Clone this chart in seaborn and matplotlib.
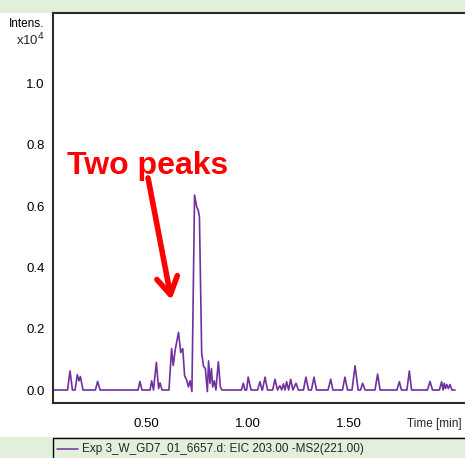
import matplotlib
matplotlib.use("Agg")
import matplotlib.pyplot as plt
from matplotlib.patches import Rectangle
from matplotlib.lines import Line2D
from matplotlib.ticker import FixedLocator, MultipleLocator
import seaborn as sns
import pandas as pd

# Extracted ion chromatogram: retention time [min] and intensity [x10^4]
time_min = [
    0.041, 0.114, 0.126, 0.138, 0.151, 0.162, 0.170, 0.177, 0.190,
    0.251, 0.262, 0.274, 0.461, 0.470, 0.480, 0.520, 0.528, 0.537,
    0.551, 0.562, 0.569, 0.579, 0.613, 0.626, 0.634, 0.644, 0.660,
    0.671, 0.681, 0.690, 0.700, 0.709, 0.717, 0.726, 0.739, 0.750,
    0.757, 0.763, 0.774, 0.783, 0.792, 0.802, 0.808, 0.815, 0.822,
    0.828, 0.836, 0.844, 0.856, 0.866, 0.874, 0.970, 0.979, 0.987,
    0.995, 1.003, 1.017, 1.049, 1.061, 1.071, 1.073, 1.086, 1.098,
    1.123, 1.135, 1.147, 1.159, 1.168, 1.176, 1.184, 1.192, 1.202,
    1.212, 1.223, 1.238, 1.250, 1.275, 1.287, 1.300, 1.314, 1.327,
    1.339, 1.396, 1.409, 1.420, 1.467, 1.479, 1.492, 1.514, 1.529,
    1.544, 1.556, 1.566, 1.578, 1.627, 1.640, 1.652, 1.735, 1.747,
    1.757, 1.784, 1.796, 1.807, 1.885, 1.898, 1.910, 1.944, 1.955,
    1.962, 1.968, 1.974, 1.980, 1.988, 1.996, 2.006, 2.021,
]
intensity = [
    0.0, 0.0, 0.062, 0.0, 0.0, 0.050, 0.030, 0.044, 0.0,
    0.0, 0.028, 0.0, 0.0, 0.028, 0.0, 0.0, 0.030, 0.0,
    0.090, 0.005, 0.023, 0.0, 0.0, 0.135, 0.080, 0.132, 0.188,
    0.122, 0.135, 0.046, 0.033, 0.010, 0.030, -0.005, 0.636, 0.596,
    0.587, 0.565, 0.120, 0.078, 0.070, -0.005, 0.095, 0.022, 0.070,
    0.010, 0.030, 0.0, 0.092, 0.010, 0.0, 0.0, 0.022, 0.0,
    0.0, 0.042, 0.0, 0.0, 0.027, 0.0, 0.0, 0.042, 0.0,
    0.0, 0.035, 0.0, 0.014, 0.0, 0.020, 0.0, 0.027, 0.0,
    0.035, 0.0, 0.022, 0.0, 0.0, 0.042, 0.0, 0.0, 0.042,
    0.0, 0.0, 0.035, 0.0, 0.0, 0.042, 0.0, 0.0, 0.079,
    0.0, 0.0, 0.022, 0.0, 0.0, 0.052, 0.0, 0.0, 0.027,
    0.0, 0.0, 0.062, 0.0, 0.0, 0.028, 0.0, 0.0, 0.027,
    0.0, 0.022, 0.005, 0.018, 0.005, 0.018, 0.0, 0.0,
]

y_ticks = [0.0, 0.2, 0.4, 0.6, 0.8, 1.0, 1.2]
y_tick_labels = ["0.0", "0.2", "0.4", "0.6", "0.8", "1.0", "Intens."]
x_ticks = [0.5, 1.0, 1.5, 2.0]
x_tick_labels = ["0.50", "1.00", "1.50", ""]
trace_label = "Exp 3_W_GD7_01_6657.d: EIC 203.00 -MS2(221.00)"
annotation_text = "Two peaks"

GREEN = "#e2efda"
PURPLE = "#7030a0"
DARK = "#2b2b2b"

sns.set_style("white")
plt.rcParams["font.family"] = ["Liberation Sans", "DejaVu Sans"]

W, H = 465, 458
fig = plt.figure(figsize=(W / 100, H / 100), dpi=100)
fig.patch.set_facecolor(GREEN)
# white drawing area between the green header and the legend strip
fig.patches.append(Rectangle((0, 21 / H), 1, 424 / H, transform=fig.transFigure,
                             facecolor="white", edgecolor="none", zorder=-5))

ax = fig.add_axes([53 / W, 55 / H, 412 / W, 390 / H])
ax.set_zorder(1)
ax.set_facecolor("white")

df = pd.DataFrame({"time": time_min, "intensity": intensity})
sns.lineplot(data=df, x="time", y="intensity", ax=ax, color=PURPLE,
             linewidth=1.2, sort=False, estimator=None)

ax.set_xlim(0.0423, 2.070)
ax.set_ylim(-0.0424, 1.230)
ax.set_xlabel("")
ax.set_ylabel("")

for side in ("left", "bottom", "top"):
    ax.spines[side].set_color(DARK)
    ax.spines[side].set_linewidth(1.5)
ax.spines["right"].set_visible(False)

ax.xaxis.set_major_locator(FixedLocator(x_ticks))
ax.set_xticklabels(x_tick_labels)
ax.xaxis.set_minor_locator(MultipleLocator(0.1))
ax.yaxis.set_major_locator(FixedLocator(y_ticks))
ax.set_yticklabels(y_tick_labels)
ax.yaxis.set_minor_locator(MultipleLocator(0.1))

ax.tick_params(axis="x", which="major", direction="out", length=6, width=1.1,
               color=DARK, labelsize=9.5, pad=5, labelcolor="black")
ax.tick_params(axis="x", which="minor", direction="out", length=4, width=1.1,
               color=DARK)
ax.tick_params(axis="y", which="major", direction="out", length=4, width=1.1,
               color=DARK, labelsize=9.5, pad=2, labelcolor="black")
ax.tick_params(axis="y", which="minor", direction="out", length=3, width=1.1,
               color=DARK)
ax.tick_params(top=False, right=False, which="both")
ax.get_yticklabels()[-1].set_fontsize(8.5)

# intensity scale factor below the axis title
fig.text(45 / W, 1 - 40 / H, r"x10$^{4}$", ha="right", va="center", fontsize=9.5,
         math_fontfamily="dejavusans")
# time axis title at the right end of the axis
fig.text(462 / W, 1 - 424 / H, "Time [min]", ha="right", va="center", fontsize=8.5)

# annotation
ax.text(0.111, 0.706, annotation_text, color="red", fontsize=23,
        fontweight="bold", ha="left", va="baseline")
ax.annotate("", xy=(0.625, 0.294), xytext=(0.510, 0.692),
            arrowprops=dict(arrowstyle="->,head_length=1.25,head_width=0.75",
                            color="red", lw=4, shrinkA=0, shrinkB=0))

# legend strip
fig.patches.append(Rectangle((53 / W, -0.05), 1, (458 - 438) / H + 0.05,
                             transform=fig.transFigure, facecolor=GREEN,
                             edgecolor="black", linewidth=1.0, zorder=3))
fig.lines.append(Line2D([57 / W, 78 / W], [1 - 449 / H, 1 - 449 / H],
                        transform=fig.transFigure, color=PURPLE, linewidth=1.1,
                        zorder=4))
fig.text(82 / W, 1 - 449 / H, trace_label, ha="left", va="center", fontsize=8.5,
         zorder=5)

fig.savefig("out.png", dpi=100, facecolor=fig.get_facecolor())
